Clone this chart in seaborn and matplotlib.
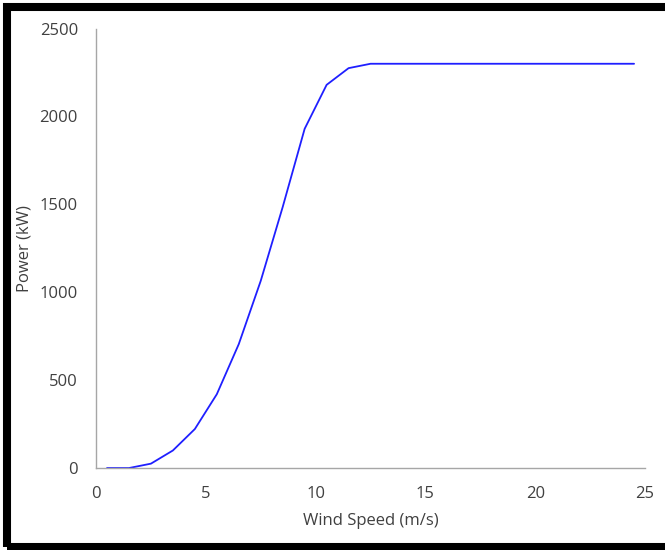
import matplotlib
matplotlib.use('Agg')
from matplotlib import pyplot as plt
from matplotlib.patches import Rectangle
import seaborn as sns
import pandas as pd

wind_speed = [0.5, 1.5, 2.5, 3.5, 4.5, 5.5, 6.5, 7.5, 8.5, 9.5, 10.5, 11.5, 12.5,
              13.5, 14.5, 15.5, 16.5, 17.5, 18.5, 19.5, 20.5, 21.5, 22.5, 23.5, 24.5]
power_kw = [0, 0, 25, 100, 222, 420, 705, 1065, 1485, 1930, 2180, 2275, 2300,
            2300, 2300, 2300, 2300, 2300, 2300, 2300, 2300, 2300, 2300, 2300, 2300]

sns.set_style('white')
plt.rcParams['font.family'] = ['Open Sans', 'DejaVu Sans']

df = pd.DataFrame({'Wind Speed (m/s)': wind_speed, 'Power (kW)': power_kw})

fig = plt.figure(figsize=(6.65, 5.5), dpi=100)
ax = fig.add_axes([0.1444, 0.149, 0.8256, 0.799])
sns.lineplot(data=df, x='Wind Speed (m/s)', y='Power (kW)', ax=ax,
             color='#1f1fff', linewidth=1.3)

ax.set_xlim(0, 25)
ax.set_ylim(0, 2500)
ax.set_xticks([0, 5, 10, 15, 20, 25])
ax.set_yticks([0, 500, 1000, 1500, 2000, 2500])
sns.despine(ax=ax)
for s in ['left', 'bottom']:
    ax.spines[s].set_color('#a6a6a6')
    ax.spines[s].set_linewidth(1.0)
ax.tick_params(axis='x', length=0, pad=13, labelsize=12, labelcolor='#404040')
ax.tick_params(axis='y', length=0, pad=13, labelsize=12, labelcolor='#404040')
ax.set_xlabel('Wind Speed (m/s)', fontsize=12, color='#404040', labelpad=8)
ax.set_ylabel('Power (kW)', fontsize=12, color='#404040', labelpad=5)

# black frame round the picture
W, H = 665, 550
fig.patches.append(Rectangle((7 / W, 3 / H), 660 / W, 540 / H, transform=fig.transFigure,
                             fill=False, edgecolor='black', linewidth=5.8, zorder=10))

fig.savefig('out.png', dpi=100)
